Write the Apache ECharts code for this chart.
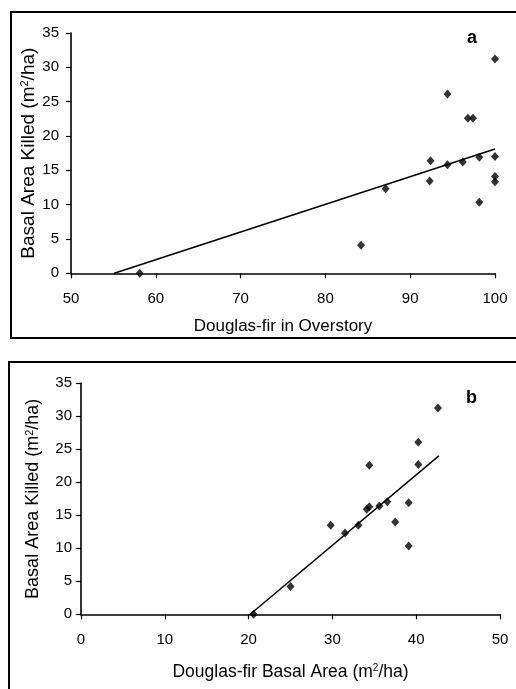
<!DOCTYPE html>
<html>
<head>
<meta charset="utf-8">
<script src="https://cdn.jsdelivr.net/npm/echarts@6/dist/echarts.min.js"></script>
<style>
html,body{margin:0;padding:0;background:#fff;}
#c{width:516px;height:689px;}
</style>
</head>
<body>
<div id="c"></div>
<script>
// Panel a: Douglas-fir in overstory (%) vs basal area killed (m2/ha)
var overstoryPct = [58.1, 84.2, 87.1, 92.4, 92.3, 94.4, 94.4, 96.2, 96.8, 97.4, 98.15, 98.15, 100, 100, 100, 100];
var killedA      = [0, 4.1, 12.3, 16.4, 13.45, 26.1, 15.8, 16.2, 22.6, 22.6, 16.9, 10.35, 31.2, 17.0, 14.1, 13.35];
var trendAx = [55.1, 100];
var trendAy = [0, 18.1];

// Panel b: Douglas-fir basal area (m2/ha) vs basal area killed (m2/ha)
var dfBasalArea = [20.6, 25.0, 29.8, 31.5, 33.1, 34.1, 34.4, 34.4, 35.6, 36.55, 37.5, 39.1, 39.1, 40.25, 40.25, 42.6];
var killedB     = [0, 4.2, 13.5, 12.3, 13.5, 15.9, 16.3, 22.6, 16.4, 17.06, 14.0, 16.9, 10.35, 26.06, 22.7, 31.26];
var trendBx = [20.2, 42.7];
var trendBy = [0, 24.0];

var xTicksA = [50, 100, 10];   // min, max, interval
var xTicksB = [0, 50, 10];
var yTicks  = [0, 35, 5];

function pairs(xs, ys){ return xs.map(function(x,i){ return [x, ys[i]]; }); }

var FONT = '"Liberation Sans", Arial, sans-serif';
var black = '#000';

function xAxis(gi, t, name, gap, fs){
  return {
    type:'value', gridIndex:gi, min:t[0], max:t[1], interval:t[2],
    name:name, nameLocation:'middle', nameGap:gap, nameMoveOverlap:false,
    nameTextStyle:{color:black, fontSize:fs, fontFamily:FONT,
      rich:{sup:{fontSize:10, verticalAlign:'top', color:black, fontFamily:FONT, padding:[0,0,6,0]}}},
    axisLine:{show:true, lineStyle:{color:black, width:1.6}},
    axisTick:{show:true, inside:false, length:5, lineStyle:{color:black, width:1.2}},
    axisLabel:{color:black, fontSize:15, fontFamily:FONT, margin:18},
    splitLine:{show:false}
  };
}
function yAxis(gi, name, gap, margin, fs){
  return {
    type:'value', gridIndex:gi, min:yTicks[0], max:yTicks[1], interval:yTicks[2],
    name:name, nameLocation:'middle', nameGap:gap, nameRotate:90, nameMoveOverlap:false,
    nameTextStyle:{color:black, fontSize:fs, fontFamily:FONT,
      rich:{sup:{fontSize:11, verticalAlign:'top', color:black, fontFamily:FONT, padding:[0,0,7,0]}}},
    axisLine:{show:true, lineStyle:{color:black, width:1.6}},
    axisTick:{show:true, inside:false, length:5, lineStyle:{color:black, width:1.2}},
    axisLabel:{color:black, fontSize:15, fontFamily:FONT, margin:margin},
    splitLine:{show:false}
  };
}

var chart = echarts.init(document.getElementById('c'), null, {renderer:'canvas'});
chart.setOption({
  backgroundColor:'#fff',
  animation:false,
  textStyle:{fontFamily:FONT},
  title:[
    {text:'a', left:462, top:24, textStyle:{fontSize:18, fontWeight:'bold', color:black, fontFamily:FONT}},
    {text:'b', left:461, top:384, textStyle:{fontSize:18, fontWeight:'bold', color:black, fontFamily:FONT}}
  ],
  graphic:[
    {type:'polyline', shape:{points:[[516,12],[11,12],[11,338],[516,338]]}, style:{stroke:black, lineWidth:2, fill:null}},
    {type:'polyline', shape:{points:[[516,362],[9,362],[9,689]]}, style:{stroke:black, lineWidth:2, fill:null}}
  ],
  grid:[
    {left:71, right:21, top:33, height:240.3},
    {left:81, right:16, top:383.3, height:231}
  ],
  xAxis:[
    xAxis(0, xTicksA, 'Douglas-fir in Overstory', 45, 17),
    xAxis(1, xTicksB, 'Douglas-fir Basal Area (m{sup|2}/ha)', 49, 17.5)
  ],
  yAxis:[
    yAxis(0, 'Basal Area Killed (m{sup|2}/ha)', 33, 12, 19),
    yAxis(1, 'Basal Area Killed (m{sup|2}/ha)', 39, 9, 18)
  ],
  series:[
    {type:'line', xAxisIndex:0, yAxisIndex:0, data:pairs(trendAx, trendAy), symbol:'none',
     lineStyle:{color:black, width:1.5}, silent:true},
    {type:'scatter', xAxisIndex:0, yAxisIndex:0, data:pairs(overstoryPct, killedA),
     symbol:'diamond', symbolSize:[8,9], itemStyle:{color:black}},
    {type:'line', xAxisIndex:1, yAxisIndex:1, data:pairs(trendBx, trendBy), symbol:'none',
     lineStyle:{color:black, width:1.5}, silent:true},
    {type:'scatter', xAxisIndex:1, yAxisIndex:1, data:pairs(dfBasalArea, killedB),
     symbol:'diamond', symbolSize:[8,9], itemStyle:{color:black}}
  ]
});
</script>
</body>
</html>
